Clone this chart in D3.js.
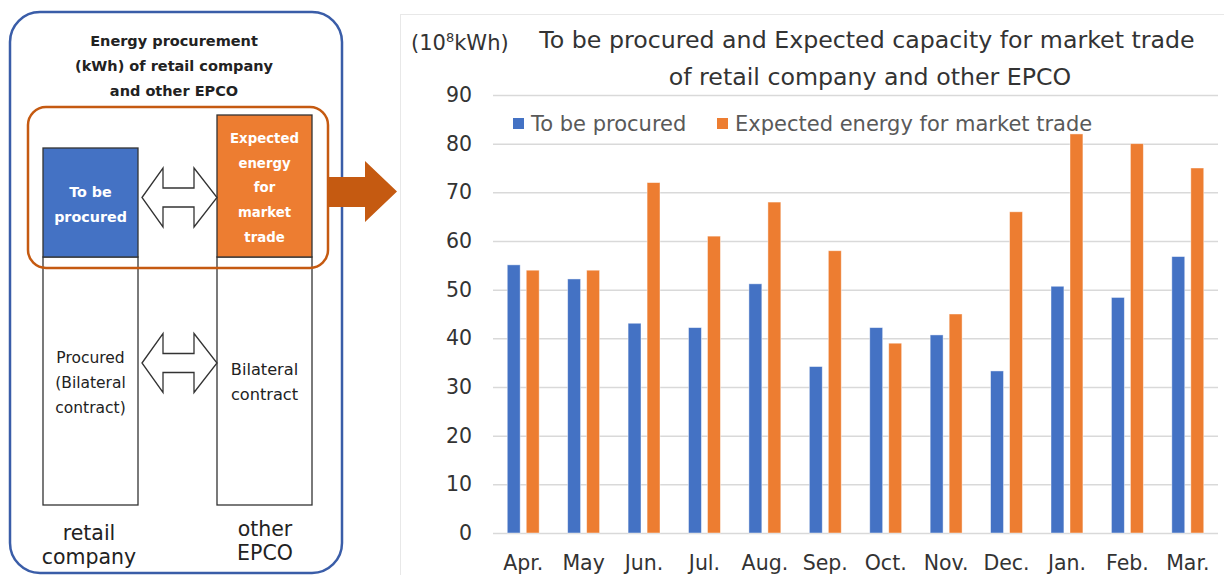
<!DOCTYPE html>
<html>
<head>
<meta charset="utf-8">
<script src="https://cdn.jsdelivr.net/npm/d3@7"></script>
<style>
  html, body { margin: 0; padding: 0; background: #fff; }
  svg { display: block; }
  text { font-family: "DejaVu Sans", Verdana, sans-serif; }
</style>
</head>
<body>
<svg id="chart" width="1224" height="575"></svg>
<script>
// Monthly energy (10^8 kWh): amount still to be procured by retail companies
// versus the energy other EPCOs expect to offer on the market.
const months = ["Apr.", "May", "Jun.", "Jul.", "Aug.", "Sep.", "Oct.", "Nov.", "Dec.", "Jan.", "Feb.", "Mar."];
const toBeProcured = [55.1, 52.2, 43.1, 42.2, 51.2, 34.2, 42.2, 40.7, 33.3, 50.7, 48.4, 56.8];
const expectedForMarket = [54, 54, 72, 61, 68, 58, 39, 45, 66, 82, 80, 75];
const seriesNames = ["To be procured", "Expected energy for market trade"];
const seriesColors = ["#4472C4", "#ED7D31"];
const yTicks = [0, 10, 20, 30, 40, 50, 60, 70, 80, 90];

const svg = d3.select("#chart");

// ---------- Left: explanatory diagram ----------
const diag = svg.append("g");

// outer panel
diag.append("rect")
  .attr("x", 10).attr("y", 12).attr("width", 332).attr("height", 561)
  .attr("rx", 30).attr("ry", 30)
  .attr("fill", "#fff").attr("stroke", "#3A5DA8").attr("stroke-width", 2.5);

// panel heading
const heading = ["Energy procurement", "(kWh) of retail company", "and other EPCO"];
diag.selectAll("text.heading").data(heading).join("text")
  .attr("class", "heading")
  .attr("x", 174).attr("y", (d, i) => 45.5 + i * 25)
  .attr("text-anchor", "middle")
  .attr("font-size", 14.5).attr("font-weight", "bold").attr("fill", "#222")
  .text(d => d);

// white columns (bilateral part)
diag.append("rect").attr("x", 43).attr("y", 257).attr("width", 95).attr("height", 248)
  .attr("fill", "#fff").attr("stroke", "#333").attr("stroke-width", 1.3);
diag.append("rect").attr("x", 217).attr("y", 257).attr("width", 95).attr("height", 248)
  .attr("fill", "#fff").attr("stroke", "#333").attr("stroke-width", 1.3);

// coloured column tops
diag.append("rect").attr("x", 43).attr("y", 148).attr("width", 95).attr("height", 109)
  .attr("fill", seriesColors[0]).attr("stroke", "#333").attr("stroke-width", 1.3);
diag.append("rect").attr("x", 217).attr("y", 115).attr("width", 95).attr("height", 142)
  .attr("fill", seriesColors[1]).attr("stroke", "#333").attr("stroke-width", 1.3);

// highlight frame around the coloured parts
diag.append("rect")
  .attr("x", 28).attr("y", 107).attr("width", 300).attr("height", 161)
  .attr("rx", 18).attr("ry", 18)
  .attr("fill", "none").attr("stroke", "#C55A11").attr("stroke-width", 2.5);

// column texts
function lines(arr, x, y0, step, size, weight, color) {
  arr.forEach((t, i) => {
    diag.append("text")
      .attr("x", x).attr("y", y0 + i * step)
      .attr("text-anchor", "middle")
      .attr("font-size", size).attr("font-weight", weight).attr("fill", color)
      .text(t);
  });
}
lines(["To be", "procured"], 90.5, 197, 25, 14.3, "bold", "#fff");
lines(["Expected", "energy", "for", "market", "trade"], 264.5, 143, 24.7, 13.3, "bold", "#fff");
lines(["Procured", "(Bilateral", "contract)"], 90.5, 363, 25, 15.5, "normal", "#222");
lines(["Bilateral", "contract"], 264.5, 375, 25, 16.2, "normal", "#222");
lines(["retail", "company"], 89, 539.5, 24, 20.5, "normal", "#222");
lines(["other", "EPCO"], 265, 536, 24, 20.5, "normal", "#222");

// double-headed arrows between the columns
function doubleArrow(cy) {
  const pts = [
    [142, cy], [163, cy - 29.5], [163, cy - 9.5], [194, cy - 9.5], [194, cy - 29.5],
    [217, cy], [194, cy + 29.5], [194, cy + 9.5], [163, cy + 9.5], [163, cy + 29.5]
  ];
  diag.append("path")
    .attr("d", d3.line()(pts) + "Z")
    .attr("fill", "#fff").attr("stroke", "#333").attr("stroke-width", 1.3)
    .attr("stroke-linejoin", "miter");
}
doubleArrow(197.5);
doubleArrow(363);

// block arrow pointing to the chart
diag.append("path")
  .attr("d", d3.line()([
    [328, 177], [365, 177], [365, 161], [397, 191.5], [365, 222], [365, 207], [328, 207]
  ]) + "Z")
  .attr("fill", "#C55A11");

// ---------- Right: monthly bar chart ----------
// chart frame
svg.append("rect")
  .attr("x", 400.5).attr("y", 14.5).attr("width", 830).attr("height", 570)
  .attr("fill", "none").attr("stroke", "#E8E8E8").attr("stroke-width", 1);

const plot = { left: 493, right: 1218, top: 95, bottom: 533 };

const x0 = d3.scaleBand().domain(months).range([plot.left, plot.right]).paddingInner(0).paddingOuter(0);
const x1 = d3.scaleBand().domain([0, 1]).range([0, x0.bandwidth()]).paddingInner(0.32).paddingOuter(0.75);
const y = d3.scaleLinear().domain([0, 90]).range([plot.bottom, plot.top]);

// gridlines
const grid = d3.axisLeft(y).tickValues(yTicks).tickSize(-(plot.right - plot.left)).tickFormat("");
svg.append("g")
  .attr("transform", `translate(${plot.left},0)`)
  .call(grid)
  .call(g => g.select(".domain").remove())
  .call(g => g.selectAll(".tick line").attr("stroke", "#D9D9D9").attr("stroke-width", 1.5));

// y tick labels
const yAxis = d3.axisLeft(y).tickValues(yTicks).tickSize(0).tickPadding(21);
svg.append("g")
  .attr("transform", `translate(${plot.left},0)`)
  .call(yAxis)
  .call(g => g.select(".domain").remove())
  .call(g => g.selectAll("text")
    .attr("font-family", "DejaVu Sans, Verdana, sans-serif")
    .attr("font-size", 20.5).attr("fill", "#333"));

// category labels
const xAxis = d3.axisBottom(x0).tickSize(0).tickPadding(0);
svg.append("g")
  .attr("transform", `translate(0,${plot.bottom})`)
  .call(xAxis)
  .call(g => g.select(".domain").remove())
  .call(g => g.selectAll("text")
    .attr("font-family", "DejaVu Sans, Verdana, sans-serif")
    .attr("font-size", 20.5).attr("fill", "#333")
    .attr("dy", null).attr("y", 37));

// bars
const rows = months.map((m, i) => ({ month: m, values: [toBeProcured[i], expectedForMarket[i]] }));
const groups = svg.append("g").selectAll("g").data(rows).join("g")
  .attr("transform", d => `translate(${x0(d.month)},0)`);
groups.selectAll("rect").data(d => d.values.map((v, k) => ({ k, v }))).join("rect")
  .attr("x", d => x1(d.k))
  .attr("width", x1.bandwidth())
  .attr("y", d => y(d.v))
  .attr("height", d => y(0) - y(d.v))
  .attr("fill", d => seriesColors[d.k])
  .attr("stroke", "#fff").attr("stroke-opacity", 0.55).attr("stroke-width", 0.8);

// title
svg.append("text")
  .attr("x", 411).attr("y", 49.5)
  .attr("font-size", 21).attr("fill", "#333")
  .call(t => {
    t.append("tspan").text("(10");
    t.append("tspan").attr("font-size", 13).attr("dy", -8).text("8");
    t.append("tspan").attr("dy", 8).text("kWh)");
  });
svg.append("text")
  .attr("x", 867).attr("y", 48)
  .attr("text-anchor", "middle").attr("font-size", 23.7).attr("fill", "#333")
  .text("To be procured and Expected capacity for market trade");
svg.append("text")
  .attr("x", 870).attr("y", 84.5)
  .attr("text-anchor", "middle").attr("font-size", 23.7).attr("fill", "#333")
  .text("of retail company and other EPCO");

// legend
const legendX = [513, 717];
const legend = svg.append("g").selectAll("g").data(seriesNames).join("g")
  .attr("transform", (d, i) => `translate(${legendX[i]},0)`);
legend.append("rect").attr("x", 0).attr("y", 118).attr("width", 11).attr("height", 11)
  .attr("fill", (d, i) => seriesColors[i]);
legend.append("text").attr("x", 18).attr("y", 130.5)
  .attr("font-size", 21).attr("fill", "#595959")
  .text(d => d);
</script>
</body>
</html>
